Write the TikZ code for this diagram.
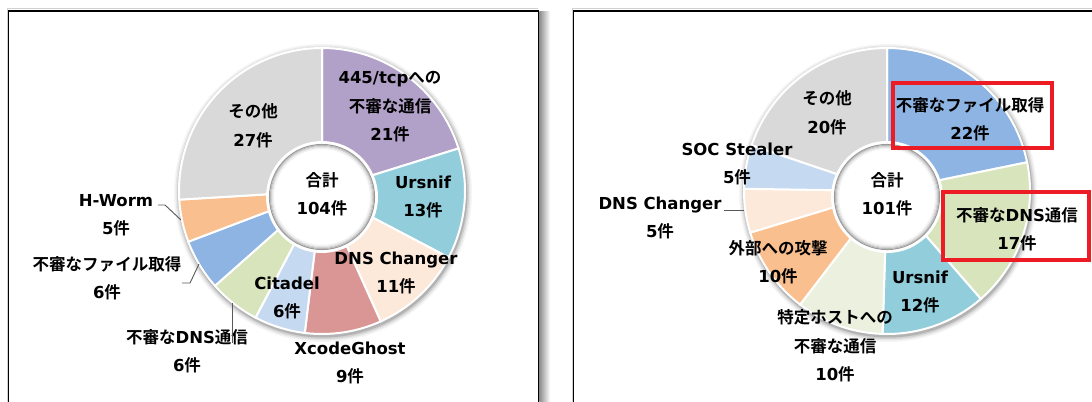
\documentclass[tikz,border=0pt]{standalone}
\usepackage{fontspec}
\setmainfont{DejaVu Sans Bold}
\newfontfamily\jp{Noto Sans CJK JP Bold}
\newcommand\J[1]{{\jp #1}}
\definecolor{cPurple}{RGB}{177,160,199}
\definecolor{cAqua}{RGB}{146,205,220}
\definecolor{cPeach}{RGB}{253,233,217}
\definecolor{cRose}{RGB}{218,150,148}
\definecolor{cLBlue}{RGB}{197,217,241}
\definecolor{cLGreen}{RGB}{216,228,188}
\definecolor{cBlue}{RGB}{141,180,226}
\definecolor{cOrange}{RGB}{250,191,143}
\definecolor{cGray}{RGB}{217,217,217}
\definecolor{cPale}{RGB}{235,241,222}
\definecolor{boxred}{RGB}{237,28,36}
\tikzset{
  lab/.style={inner sep=0pt, align=center, font=\fontsize{16.5bp}{28.5bp}\selectfont, text=black},
  sep/.style={draw=white, line width=2bp},
  leader/.style={draw=black!65, line width=0.9bp},
  redbox/.style={draw=boxred, line width=3.6bp},
  frame/.style={draw=black, line width=1.6bp},
}
\newcommand\donutslice[5]{\fill[#5, sep] (#1,#2) -- ++(#3:143) arc[start angle=#3, end angle=#4, radius=143] -- cycle;}
\newcommand\donutshadow[2]{\foreach \r/\o in {149/0.04,147.5/0.06,146/0.09,144.5/0.14} \fill[black, opacity=\o] ({#1+1},{#2-2}) circle (\r);}
\newcommand\donuthole[2]{\fill[white] (#1,#2) circle (56);
  \foreach \r/\c in {52.5/40,51.5/28,50.5/18,49.5/10,48.5/5} \draw[black!\c, line width=1.1bp] (#1,#2) circle (\r);}
\begin{document}
\begin{tikzpicture}[x=1bp,y=1bp]
\useasboundingbox (0,0) rectangle (1092,401);
\fill[white] (0,0) rectangle (1092,401);
% frames
\shade[left color=black!45, right color=white] (539.3,-5) rectangle (550,389);
\draw[black!18, line width=1bp] (7,-5) -- (7,392) -- (538,392);
\draw[black!18, line width=1bp] (572,-5) -- (572,392) -- (1097,392);
\draw[frame] (8.5,-5) -- (8.5,390) -- (538.5,390) -- (538.5,-5);
\draw[frame] (573.5,-5) -- (573.5,390) -- (1097,390);

% ---------- left donut ----------
\donutshadow{322}{210}
\donutslice{322}{210}{90}{17.31}{cPurple}
\donutslice{322}{210}{17.31}{-27.69}{cAqua}
\donutslice{322}{210}{-27.69}{-65.77}{cPeach}
\donutslice{322}{210}{-65.77}{-96.92}{cRose}
\donutslice{322}{210}{-96.92}{-117.69}{cLBlue}
\donutslice{322}{210}{-117.69}{-138.46}{cLGreen}
\donutslice{322}{210}{-138.46}{-159.23}{cBlue}
\donutslice{322}{210}{-159.23}{-176.54}{cOrange}
\donutslice{322}{210}{-176.54}{-270}{cGray}
\donuthole{322}{204}

\node[lab] (L1) at (390,294) {445/tcp\J{への}\\\J{不審な通信}\\21\J{件}};
\node[lab] (L2) at (423,204) {Ursnif\\13\J{件}};
\node[lab] (L3) at (396,128) {DNS Changer\\11\J{件}};
\node[lab] (L4) at (350,38) {XcodeGhost\\9\J{件}};
\node[lab] (L5) at (287,103) {Citadel\\6\J{件}};
\node[lab] (L6) at (187,50) {\J{不審な}DNS\J{通信}\\6\J{件}};
\node[lab] (L7) at (107,123) {\J{不審なファイル取得}\\6\J{件}};
\node[lab] (L8) at (116,186) {H-Worm\\5\J{件}};
\node[lab] (L9) at (253,275) {\J{その他}\\27\J{件}};
\node[lab] (LC) at (322,207) {\J{合計}\\104\J{件}};

\coordinate (hwA) at (158,196); \coordinate (hwB) at (165,196); \coordinate (hwC) at (181,181);
\coordinate (fiA) at (182,118); \coordinate (fiB) at (190,118); \coordinate (fiC) at (199,137);
\coordinate (dnA) at (232,98);  \coordinate (dnB) at (232,58);
\draw[leader] (hwA) -- (hwB) -- (hwC);
\draw[leader] (fiA) -- (fiB) -- (fiC);
\draw[leader] (dnA) -- (dnB);

% ---------- right donut ----------
\donutshadow{887}{210}
\donutslice{887}{210}{90}{11.58}{cBlue}
\donutslice{887}{210}{11.58}{-49.01}{cLGreen}
\donutslice{887}{210}{-49.01}{-91.78}{cAqua}
\donutslice{887}{210}{-91.78}{-127.43}{cPale}
\donutslice{887}{210}{-127.43}{-163.07}{cOrange}
\donutslice{887}{210}{-163.07}{-180.89}{cPeach}
\donutslice{887}{210}{-180.89}{-198.71}{cLBlue}
\donutslice{887}{210}{-198.71}{-270}{cGray}
\donuthole{887}{204}

\node[lab] (R1) at (970,282) {\J{不審なファイル取得}\\22\J{件}};
\node[lab] (R2) at (1017,172) {\J{不審な}DNS\J{通信}\\17\J{件}};
\node[lab] (R3) at (920,109) {Ursnif\\12\J{件}};
\node[lab] (R4) at (835,55) {\J{特定ホストへの}\\\J{不審な通信}\\10\J{件}};
\node[lab] (R5) at (778,139) {\J{外部への攻撃}\\10\J{件}};
\node[lab] (R6) at (660,183) {DNS Changer\\5\J{件}};
\node[lab] (R7) at (737,237) {SOC Stealer\\5\J{件}};
\node[lab] (R8) at (827,288) {\J{その他}\\20\J{件}};
\node[lab] (RC) at (887,207) {\J{合計}\\101\J{件}};

\coordinate (dcA) at (724,191); \coordinate (dcB) at (744,191);
\draw[leader] (dcA) -- (dcB);

\draw[redbox] (893,318) rectangle (1052,253);
\draw[redbox] (943,209) rectangle (1089,141);
\end{tikzpicture}
\end{document}
